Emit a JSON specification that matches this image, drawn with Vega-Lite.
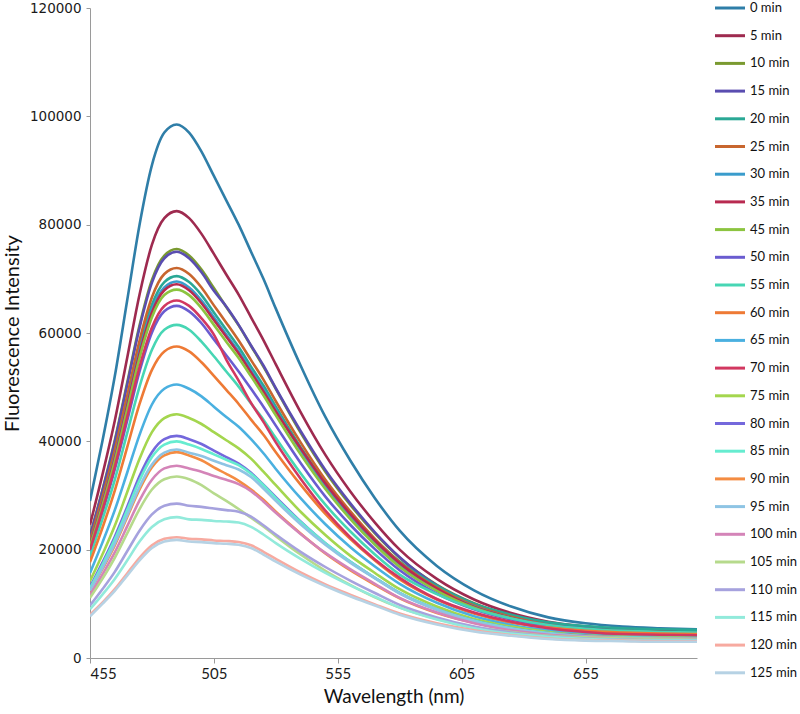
{
  "$schema": "https://vega.github.io/schema/vega-lite/v6.json",
  "width": 607,
  "height": 650,
  "autosize": {"type": "none"},
  "padding": {"left": 90, "top": 8, "right": 103, "bottom": 56},
  "background": "white",
  "config": {"view": {"stroke": null}, "axis": {"grid": false}},
  "data": {"values": [
    {"w":455,"0 min":29000,"5 min":24600,"10 min":22600,"15 min":22500,"20 min":21300,"25 min":21700,"30 min":21000,"35 min":20900,"45 min":20600,"50 min":19800,"55 min":18800,"60 min":17700,"65 min":15700,"70 min":20000,"75 min":14200,"80 min":13100,"85 min":12900,"90 min":12300,"95 min":12400,"100 min":11600,"105 min":11100,"110 min":9700,"115 min":9000,"120 min":8000,"125 min":7700},
    {"w":460,"0 min":40000,"5 min":33800,"10 min":31000,"15 min":30800,"20 min":29100,"25 min":29700,"30 min":28700,"35 min":28500,"45 min":28100,"50 min":26900,"55 min":25600,"60 min":24000,"65 min":21300,"70 min":27300,"75 min":19100,"80 min":17600,"85 min":17200,"90 min":16400,"95 min":16600,"100 min":15400,"105 min":14600,"110 min":12700,"115 min":11700,"120 min":10200,"125 min":10000},
    {"w":465,"0 min":52000,"5 min":43800,"10 min":40200,"15 min":39900,"20 min":37600,"25 min":38400,"30 min":37100,"35 min":36800,"45 min":36300,"50 min":34800,"55 min":32900,"60 min":30900,"65 min":27300,"70 min":35300,"75 min":24400,"80 min":22400,"85 min":21900,"90 min":20800,"95 min":21100,"100 min":19500,"105 min":18500,"110 min":15900,"115 min":14600,"120 min":12700,"125 min":12400},
    {"w":470,"0 min":66000,"5 min":55400,"10 min":50800,"15 min":50400,"20 min":47400,"25 min":48400,"30 min":46800,"35 min":46500,"45 min":45800,"50 min":43800,"55 min":41500,"60 min":38900,"65 min":34200,"70 min":44500,"75 min":30600,"80 min":27900,"85 min":27300,"90 min":26000,"95 min":26300,"100 min":24300,"105 min":23000,"110 min":19700,"115 min":18000,"120 min":15600,"125 min":15200},
    {"w":475,"0 min":80000,"5 min":67100,"10 min":61400,"15 min":61000,"20 min":57400,"25 min":58600,"30 min":56600,"35 min":56200,"45 min":55400,"50 min":52900,"55 min":50100,"60 min":46900,"65 min":41200,"70 min":53700,"75 min":36800,"80 min":33600,"85 min":32800,"90 min":31100,"95 min":31600,"100 min":29100,"105 min":27500,"110 min":23500,"115 min":21500,"120 min":18500,"125 min":18000},
    {"w":480,"0 min":91000,"5 min":76300,"10 min":69800,"15 min":69300,"20 min":65200,"25 min":66600,"30 min":64300,"35 min":63800,"45 min":62900,"50 min":60100,"55 min":56900,"60 min":53200,"65 min":46800,"70 min":61000,"75 min":41700,"80 min":38000,"85 min":37100,"90 min":35200,"95 min":35700,"100 min":32900,"105 min":31100,"110 min":26500,"115 min":24200,"120 min":20800,"125 min":20300},
    {"w":485,"0 min":97000,"5 min":81200,"10 min":74300,"15 min":73800,"20 min":69400,"25 min":70900,"30 min":68400,"35 min":67900,"45 min":67000,"50 min":64000,"55 min":60600,"60 min":56600,"65 min":49700,"70 min":65000,"75 min":44300,"80 min":40400,"85 min":39400,"90 min":37400,"95 min":37900,"100 min":35000,"105 min":33000,"110 min":28100,"115 min":25600,"120 min":22000,"125 min":21500},
    {"w":490,"0 min":98500,"5 min":82500,"10 min":75500,"15 min":75000,"20 min":70500,"25 min":72000,"30 min":69500,"35 min":69000,"45 min":68000,"50 min":65000,"55 min":61500,"60 min":57500,"65 min":50500,"70 min":66000,"75 min":45000,"80 min":41000,"85 min":40000,"90 min":38000,"95 min":38500,"100 min":35500,"105 min":33500,"110 min":28500,"115 min":26000,"120 min":22300,"125 min":21800},
    {"w":495,"0 min":97000,"5 min":81200,"10 min":74300,"15 min":73800,"20 min":69400,"25 min":70900,"30 min":68400,"35 min":67900,"45 min":67000,"50 min":64000,"55 min":60600,"60 min":56600,"65 min":49700,"70 min":65000,"75 min":44300,"80 min":40400,"85 min":39400,"90 min":37400,"95 min":37900,"100 min":35000,"105 min":33000,"110 min":28100,"115 min":25600,"120 min":22000,"125 min":21500},
    {"w":500,"0 min":93500,"5 min":78300,"10 min":71700,"15 min":71200,"20 min":67000,"25 min":68400,"30 min":66000,"35 min":65500,"45 min":64600,"50 min":61800,"55 min":58400,"60 min":54600,"65 min":48300,"70 min":62700,"75 min":43200,"80 min":39500,"85 min":38600,"90 min":36500,"95 min":37300,"100 min":34400,"105 min":31900,"110 min":27900,"115 min":25500,"120 min":21900,"125 min":21400},
    {"w":505,"0 min":89000,"5 min":74600,"10 min":68300,"15 min":67800,"20 min":63800,"25 min":65100,"30 min":62900,"35 min":62400,"45 min":61500,"50 min":58800,"55 min":55700,"60 min":52100,"65 min":46400,"70 min":59700,"75 min":41700,"80 min":38300,"85 min":37600,"90 min":35200,"95 min":36400,"100 min":33600,"105 min":30400,"110 min":27600,"115 min":25300,"120 min":21700,"125 min":21200},
    {"w":510,"0 min":84500,"5 min":70800,"10 min":64800,"15 min":64900,"20 min":60600,"25 min":61900,"30 min":59700,"35 min":59300,"45 min":58400,"50 min":55900,"55 min":52900,"60 min":49500,"65 min":44500,"70 min":55100,"75 min":40200,"80 min":37100,"85 min":36600,"90 min":34000,"95 min":35600,"100 min":32900,"105 min":29000,"110 min":27300,"115 min":25200,"120 min":21600,"125 min":21100},
    {"w":515,"0 min":80000,"5 min":67100,"10 min":61400,"15 min":61500,"20 min":57400,"25 min":58600,"30 min":56600,"35 min":56200,"45 min":55400,"50 min":52900,"55 min":50100,"60 min":46900,"65 min":42700,"70 min":51200,"75 min":38700,"80 min":35900,"85 min":35600,"90 min":32700,"95 min":34800,"100 min":32100,"105 min":27500,"110 min":27000,"115 min":25000,"120 min":21400,"125 min":20900},
    {"w":520,"0 min":75000,"5 min":62900,"10 min":57600,"15 min":57700,"20 min":53800,"25 min":55000,"30 min":53100,"35 min":52700,"45 min":52000,"50 min":49700,"55 min":47000,"60 min":44000,"65 min":40400,"70 min":47100,"75 min":36800,"80 min":34200,"85 min":34000,"90 min":31100,"95 min":33400,"100 min":30800,"105 min":25900,"110 min":26100,"115 min":24200,"120 min":20800,"125 min":20300},
    {"w":525,"0 min":70000,"5 min":58700,"10 min":53800,"15 min":54000,"20 min":50300,"25 min":51400,"30 min":49600,"35 min":49200,"45 min":48500,"50 min":46400,"55 min":44000,"60 min":41200,"65 min":37800,"70 min":43600,"75 min":34400,"80 min":32000,"85 min":31900,"90 min":29200,"95 min":31300,"100 min":28900,"105 min":24300,"110 min":24500,"115 min":22800,"120 min":19600,"125 min":19100},
    {"w":530,"0 min":64500,"5 min":54200,"10 min":49700,"15 min":49800,"20 min":46400,"25 min":47400,"30 min":45800,"35 min":45500,"45 min":44800,"50 min":42900,"55 min":40600,"60 min":38000,"65 min":34900,"70 min":39800,"75 min":31900,"80 min":29700,"85 min":29500,"90 min":27000,"95 min":29000,"100 min":26800,"105 min":22500,"110 min":22800,"115 min":21200,"120 min":18300,"125 min":17800},
    {"w":540,"0 min":54000,"5 min":45400,"10 min":41600,"15 min":41900,"20 min":38900,"25 min":39800,"30 min":38400,"35 min":38700,"45 min":37600,"50 min":36000,"55 min":34100,"60 min":32000,"65 min":29500,"70 min":33100,"75 min":27000,"80 min":25200,"85 min":25100,"90 min":23000,"95 min":24700,"100 min":22900,"105 min":19100,"110 min":19600,"115 min":18300,"120 min":15800,"125 min":15400},
    {"w":550,"0 min":44500,"5 min":37500,"10 min":34400,"15 min":34700,"20 min":32300,"25 min":32900,"30 min":31800,"35 min":32200,"45 min":31200,"50 min":29800,"55 min":28300,"60 min":26600,"65 min":24700,"70 min":27200,"75 min":22700,"80 min":21200,"85 min":21200,"90 min":19300,"95 min":20900,"100 min":19400,"105 min":16100,"110 min":16800,"115 min":15700,"120 min":13600,"125 min":13300},
    {"w":560,"0 min":36500,"5 min":30800,"10 min":28300,"15 min":28600,"20 min":26600,"25 min":27100,"30 min":26200,"35 min":26600,"45 min":25700,"50 min":24600,"55 min":23400,"60 min":22000,"65 min":20500,"70 min":22300,"75 min":18900,"80 min":17800,"85 min":17800,"90 min":16200,"95 min":17600,"100 min":16400,"105 min":13500,"110 min":14300,"115 min":13400,"120 min":11700,"125 min":11400},
    {"w":570,"0 min":29500,"5 min":25000,"10 min":23000,"15 min":23200,"20 min":21900,"25 min":22000,"30 min":21300,"35 min":21700,"45 min":20900,"50 min":20100,"55 min":19100,"60 min":18000,"65 min":16900,"70 min":18200,"75 min":15700,"80 min":14800,"85 min":14800,"90 min":13500,"95 min":14700,"100 min":13700,"105 min":11200,"110 min":12000,"115 min":11300,"120 min":9900,"125 min":9700},
    {"w":580,"0 min":23500,"5 min":20000,"10 min":18500,"15 min":18600,"20 min":17800,"25 min":17700,"30 min":17200,"35 min":17500,"45 min":16800,"50 min":16200,"55 min":15400,"60 min":14500,"65 min":13700,"70 min":14800,"75 min":12700,"80 min":12000,"85 min":12000,"90 min":11000,"95 min":11900,"100 min":11100,"105 min":9300,"110 min":9800,"115 min":9300,"120 min":8200,"125 min":8000},
    {"w":595,"0 min":17000,"5 min":14600,"10 min":13500,"15 min":13400,"20 min":13300,"25 min":13000,"30 min":12600,"35 min":12800,"45 min":12400,"50 min":11900,"55 min":11800,"60 min":10800,"65 min":10200,"70 min":10900,"75 min":9500,"80 min":9000,"85 min":9000,"90 min":8300,"95 min":8900,"100 min":8400,"105 min":7200,"110 min":7500,"115 min":7100,"120 min":6400,"125 min":6200},
    {"w":610,"0 min":12500,"5 min":10800,"10 min":10100,"15 min":10000,"20 min":10000,"25 min":9700,"30 min":9500,"35 min":9400,"45 min":9300,"50 min":9000,"55 min":9100,"60 min":8200,"65 min":7700,"70 min":8400,"75 min":7200,"80 min":6900,"85 min":6900,"90 min":6500,"95 min":6800,"100 min":6400,"105 min":5700,"110 min":5800,"115 min":5500,"120 min":5100,"125 min":4900},
    {"w":625,"0 min":9500,"5 min":8300,"10 min":7800,"15 min":7800,"20 min":8000,"25 min":7600,"30 min":7400,"35 min":7400,"45 min":7300,"50 min":7100,"55 min":7300,"60 min":6500,"65 min":6100,"70 min":6700,"75 min":5800,"80 min":5500,"85 min":5500,"90 min":5200,"95 min":5400,"100 min":5100,"105 min":4800,"110 min":4700,"115 min":4500,"120 min":4200,"125 min":4100},
    {"w":640,"0 min":7500,"5 min":6700,"10 min":6300,"15 min":6300,"20 min":6600,"25 min":6100,"30 min":6000,"35 min":6000,"45 min":5900,"50 min":5800,"55 min":6100,"60 min":5600,"65 min":5100,"70 min":5500,"75 min":4800,"80 min":4600,"85 min":4600,"90 min":4400,"95 min":4500,"100 min":4300,"105 min":4100,"110 min":4000,"115 min":3900,"120 min":3600,"125 min":3500},
    {"w":655,"0 min":6400,"5 min":5800,"10 min":5500,"15 min":5500,"20 min":5900,"25 min":5300,"30 min":5200,"35 min":5200,"45 min":5200,"50 min":5100,"55 min":5400,"60 min":5000,"65 min":4500,"70 min":4800,"75 min":4200,"80 min":4100,"85 min":4000,"90 min":4000,"95 min":4000,"100 min":3900,"105 min":3800,"110 min":3600,"115 min":3500,"120 min":3300,"125 min":3200},
    {"w":670,"0 min":5800,"5 min":5200,"10 min":5000,"15 min":5000,"20 min":5500,"25 min":4900,"30 min":4800,"35 min":4800,"45 min":4700,"50 min":4600,"55 min":5000,"60 min":4700,"65 min":4100,"70 min":4400,"75 min":3900,"80 min":3800,"85 min":3800,"90 min":3700,"95 min":3700,"100 min":3600,"105 min":3600,"110 min":3400,"115 min":3300,"120 min":3200,"125 min":3100},
    {"w":685,"0 min":5500,"5 min":5000,"10 min":4800,"15 min":4700,"20 min":5300,"25 min":4700,"30 min":4600,"35 min":4600,"45 min":4500,"50 min":4400,"55 min":4800,"60 min":4500,"65 min":4000,"70 min":4300,"75 min":3800,"80 min":3700,"85 min":3700,"90 min":3600,"95 min":3600,"100 min":3500,"105 min":3500,"110 min":3300,"115 min":3200,"120 min":3100,"125 min":3000},
    {"w":700,"0 min":5300,"5 min":4800,"10 min":4600,"15 min":4600,"20 min":5200,"25 min":4500,"30 min":4400,"35 min":4400,"45 min":4400,"50 min":4300,"55 min":4700,"60 min":4400,"65 min":3900,"70 min":4200,"75 min":3700,"80 min":3600,"85 min":3600,"90 min":3500,"95 min":3500,"100 min":3500,"105 min":3400,"110 min":3300,"115 min":3200,"120 min":3100,"125 min":3000}
  ]},
  "transform": [
    {"fold": ["0 min","5 min","10 min","15 min","20 min","25 min","30 min","35 min","45 min","50 min","55 min","60 min","65 min","70 min","75 min","80 min","85 min","90 min","95 min","100 min","105 min","110 min","115 min","120 min","125 min"], "as": ["series","intensity"]}
  ],
  "mark": {"type": "line", "strokeWidth": 2.6, "clip": true, "interpolate": "monotone"},
  "encoding": {
    "x": {
      "field": "w", "type": "quantitative",
      "scale": {"domain": [455, 700], "nice": false, "zero": false},
      "axis": {"title": "Wavelength (nm)", "values": [455, 505, 555, 605, 655], "domainColor": "#9a9a9a", "tickColor": "#9a9a9a", "tickSize": 5, "labelFont": "Lato", "labelFontSize": 15, "labelColor": "#1a1a1a", "labelPadding": 3, "titleFont": "Lato", "titleFontSize": 19, "titleFontWeight": "normal", "titleColor": "#111111", "titlePadding": 6}
    },
    "y": {
      "field": "intensity", "type": "quantitative",
      "scale": {"domain": [0, 120000], "nice": false},
      "axis": {"title": "Fluorescence Intensity", "values": [0, 20000, 40000, 60000, 80000, 100000, 120000], "format": "d", "domainColor": "#9a9a9a", "tickColor": "#9a9a9a", "tickSize": 4, "labelFont": "DejaVu Sans", "labelFontSize": 13.5, "labelColor": "#1a1a1a", "labelPadding": 5, "titleFont": "Lato", "titleFontSize": 20, "titleFontWeight": "normal", "titleColor": "#111111", "titlePadding": 7}
    },
    "color": {
      "field": "series", "type": "nominal",
      "scale": {
        "domain": ["0 min","5 min","10 min","15 min","20 min","25 min","30 min","35 min","45 min","50 min","55 min","60 min","65 min","70 min","75 min","80 min","85 min","90 min","95 min","100 min","105 min","110 min","115 min","120 min","125 min"],
        "range": ["#2f7ea8","#9e2a4f","#7a9a30","#5a4db0","#2aa895","#c8662e","#3a9ccc","#b82a50","#8cc440","#6a5cd0","#47d6b4","#ee7a35","#4ab0e0","#d23860","#a4d64e","#7468dc","#66ecd0","#f48c42","#8ec4e4","#d484b8","#b6da8c","#a6a2de","#92eadb","#f7aaa0","#b6d2e4"]
      },
      "legend": {"title": null, "orient": "none", "legendX": 633.5, "legendY": -6.5, "symbolType": "M-3,0H3", "symbolSize": 100, "symbolStrokeWidth": 3, "labelFont": "Lato", "labelFontSize": 13, "labelColor": "#111111", "labelOffset": 13.5, "rowPadding": 13.7, "padding": 0, "labelLimit": 200}
    }
  }
}
